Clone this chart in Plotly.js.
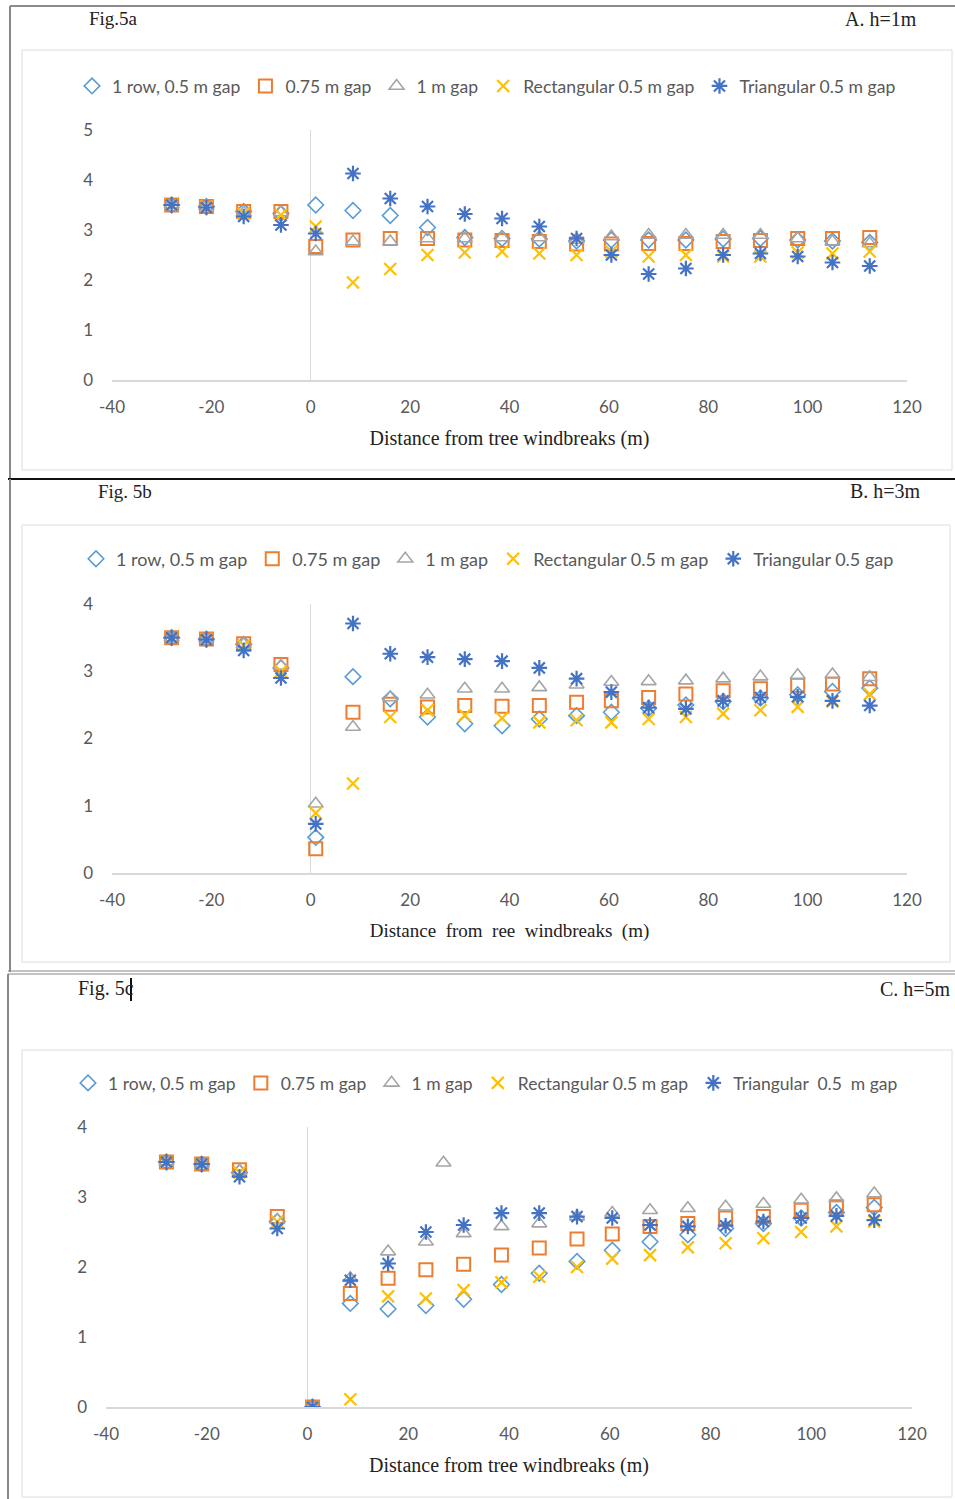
<!DOCTYPE html>
<html><head><meta charset="utf-8">
<script src="https://cdn.plot.ly/plotly-3.0.1.min.js"></script>
<style>html,body{margin:0;padding:0;background:#fff}#chart{width:955px;height:1499px}</style>
</head><body><div id="chart"></div>
<script>
// ---- data ----
const distance = [-28, -21, -13.5, -6, 1, 8.5, 16, 23.5, 31, 38.5, 46, 53.5, 60.5, 68, 75.5, 83, 90.5, 98, 105, 112.5];
const distanceTriC = [-28, -21, -13.5, -6, 1, 8.5, 16, 23.5, 27, 31, 38.5, 46, 53.5, 60.5, 68, 75.5, 83, 90.5, 98, 105, 112.5];

const xTicks = [-40, -20, 0, 20, 40, 60, 80, 100, 120];

// Fig 5a, h = 1 m
const a_row1 = [3.5, 3.47, 3.37, 3.33, 3.5, 3.39, 3.29, 3.05, 2.85, 2.83, 2.82, 2.78, 2.8, 2.8, 2.8, 2.82, 2.83, 2.8, 2.78, 2.75];
const a_gap075 = [3.5, 3.47, 3.37, 3.37, 2.67, 2.8, 2.83, 2.83, 2.8, 2.79, 2.77, 2.72, 2.72, 2.73, 2.73, 2.77, 2.79, 2.83, 2.83, 2.85];
const a_gap1 = [3.5, 3.47, 3.35, 3.35, 2.57, 2.77, 2.77, 2.83, 2.83, 2.85, 2.85, 2.8, 2.87, 2.9, 2.9, 2.9, 2.9, 2.83, 2.77, 2.73];
const a_rect = [3.5, 3.47, 3.33, 3.3, 3.07, 1.95, 2.22, 2.5, 2.55, 2.57, 2.53, 2.5, 2.57, 2.47, 2.5, 2.47, 2.47, 2.55, 2.53, 2.57];
const a_tri = [3.5, 3.45, 3.27, 3.1, 2.93, 4.13, 3.63, 3.47, 3.32, 3.23, 3.07, 2.83, 2.5, 2.12, 2.23, 2.5, 2.53, 2.47, 2.35, 2.28];

// Fig 5b, h = 3 m
const b_row1 = [3.5, 3.48, 3.4, 3.05, 0.53, 2.92, 2.59, 2.32, 2.22, 2.19, 2.29, 2.34, 2.39, 2.45, 2.5, 2.55, 2.6, 2.65, 2.7, 2.75];
const b_gap075 = [3.5, 3.48, 3.41, 3.1, 0.36, 2.39, 2.51, 2.47, 2.49, 2.48, 2.49, 2.54, 2.56, 2.61, 2.66, 2.71, 2.74, 2.79, 2.81, 2.89];
const b_gap1 = [3.5, 3.48, 3.4, 3.08, 1.03, 2.17, 2.61, 2.65, 2.74, 2.74, 2.76, 2.8, 2.84, 2.85, 2.86, 2.89, 2.92, 2.94, 2.95, 2.91];
const b_rect = [3.5, 3.48, 3.38, 3.0, 0.89, 1.33, 2.32, 2.42, 2.35, 2.3, 2.24, 2.27, 2.24, 2.29, 2.32, 2.37, 2.42, 2.47, 2.55, 2.66];
const b_tri = [3.5, 3.47, 3.31, 2.9, 0.73, 3.71, 3.26, 3.21, 3.18, 3.15, 3.05, 2.89, 2.69, 2.46, 2.44, 2.56, 2.61, 2.62, 2.56, 2.49];

// Fig 5c, h = 5 m
const c_row1 = [3.5, 3.47, 3.35, 2.65, 0, 1.48, 1.4, 1.45, 1.54, 1.75, 1.91, 2.08, 2.24, 2.36, 2.46, 2.55, 2.62, 2.7, 2.78, 2.85];
const c_gap075 = [3.5, 3.47, 3.39, 2.72, 0, 1.62, 1.84, 1.96, 2.04, 2.17, 2.27, 2.4, 2.47, 2.58, 2.62, 2.7, 2.72, 2.81, 2.86, 2.89];
const c_gap1 = [3.5, 3.47, 3.37, 2.67, 0, 1.84, 2.22, 2.36, 3.49, 2.48, 2.58, 2.62, 2.72, 2.77, 2.81, 2.84, 2.86, 2.9, 2.96, 2.98, 3.05];
const c_rect = [3.5, 3.47, 3.35, 2.65, 0, 0.11, 1.58, 1.55, 1.67, 1.78, 1.86, 2.0, 2.12, 2.17, 2.28, 2.34, 2.41, 2.5, 2.58, 2.65];
const c_tri = [3.5, 3.47, 3.29, 2.55, 0, 1.81, 2.05, 2.5, 2.6, 2.77, 2.77, 2.72, 2.7, 2.6, 2.58, 2.59, 2.65, 2.7, 2.73, 2.67];

const namesA = ['1 row, 0.5 m gap', '0.75 m gap', '1 m gap', 'Rectangular 0.5 m gap', 'Triangular 0.5 m gap'];
const namesB = ['1 row, 0.5 m gap', '0.75 m gap', '1 m gap', 'Rectangular 0.5 m gap', 'Triangular 0.5 gap'];
const namesC = ['1 row, 0.5 m gap', '0.75 m gap', '1 m gap', 'Rectangular 0.5 m gap', 'Triangular\u00a0 0.5\u00a0 m gap'];

// ---- styling ----
const W = 955, H = 1499;
const px = v => v / W, py = v => 1 - v / H;
const styles = [
  {symbol: 'diamond-open', color: '#5B9BD5', size: 12, lw: 1.6},
  {symbol: 'square-open', color: '#ED7D31', size: 13, lw: 2},
  {symbol: 'triangle-up-open', color: '#A5A5A5', size: 13, lw: 1.6},
  {symbol: 'x-thin-open', color: '#FFC000', size: 12, lw: 2.2},
  {symbol: 'asterisk-open', color: '#4472C4', size: 13, lw: 2.2}
];

function traces(names, xs, ys, ax, leg) {
  return ys.map((y, i) => ({
    type: 'scatter', mode: 'markers', name: names[i],
    x: xs[i], y: y,
    xaxis: 'x' + ax, yaxis: 'y' + ax, legend: leg,
    marker: {symbol: styles[i].symbol, size: styles[i].size, color: styles[i].color,
             line: {color: styles[i].color, width: styles[i].lw}},
    hoverinfo: 'x+y+name'
  }));
}

const data = [].concat(
  traces(namesA, [distance, distance, distance, distance, distance], [a_row1, a_gap075, a_gap1, a_rect, a_tri], '', 'legend'),
  traces(namesB, [distance, distance, distance, distance, distance], [b_row1, b_gap075, b_gap1, b_rect, b_tri], '2', 'legend2'),
  traces(namesC, [distance, distance, distanceTriC, distance, distance], [c_row1, c_gap075, c_gap1, c_rect, c_tri], '3', 'legend3')
);

const sansFam = 'Lato, "Open Sans", sans-serif';
const serifFam = '"Liberation Serif", "DejaVu Serif", serif';
const tickFont = {family: sansFam, size: 17, color: '#595959'};
const titleFont = {family: serifFam, size: 20, color: '#222'};

function xAxis(x0, x1, anchor, title, tfont) {
  return {
    domain: [px(x0), px(x1)], anchor: anchor, range: [-40, 120],
    tickvals: xTicks, ticktext: xTicks.map(String),
    showgrid: false, zeroline: true, zerolinecolor: '#D9D9D9', zerolinewidth: 1,
    showline: true, linecolor: '#D9D9D9', linewidth: 1.5, ticks: '',
    tickfont: tickFont, ticklabelstandoff: 11, automargin: false,
    title: {text: title, font: tfont || titleFont, standoff: 15}
  };
}
function yAxis(y0, y1, anchor, maxv) {
  return {
    domain: [py(y1), py(y0)], anchor: anchor, range: [0, maxv], dtick: 1,
    showgrid: false, zeroline: false, showline: false, ticks: '',
    tickfont: tickFont, ticklabelstandoff: 18, automargin: false
  };
}

const legendBase = (size) => ({orientation: 'h', xanchor: 'left', yanchor: 'middle',
  font: {family: sansFam, size: size, color: '#595959'},
  bgcolor: 'rgba(0,0,0,0)', itemwidth: 30, tracegroupgap: 0});

const line = (x0, y0, x1, y1, color, width) => ({type: 'line', xref: 'paper', yref: 'paper',
  x0: px(x0), y0: py(y0), x1: px(x1), y1: py(y1), line: {color: color, width: width}});
const rect = (x0, y0, x1, y1, color) => ({type: 'rect', xref: 'paper', yref: 'paper',
  x0: px(x0), y0: py(y1), x1: px(x1), y1: py(y0), line: {color: color, width: 1}, layer: 'below'});

const ann = (text, x, y, xanchor, size) => ({text: text, xref: 'paper', yref: 'paper', x: px(x), y: py(y),
  xanchor: xanchor, yanchor: 'middle', showarrow: false, font: {family: serifFam, size: size || 19, color: '#222'}});

const layout = {
  width: W, height: H, margin: {l: 0, r: 0, t: 0, b: 0},
  paper_bgcolor: '#fff', plot_bgcolor: 'rgba(0,0,0,0)', showlegend: true,
  xaxis: xAxis(112, 907, 'y', 'Distance from tree windbreaks (m)'),
  yaxis: yAxis(130, 380, 'x', 5),
  xaxis2: xAxis(112, 907, 'y2', 'Distance\u00a0 from\u00a0 ree\u00a0 windbreaks\u00a0 (m)', {family: serifFam, size: 19, color: '#222'}),
  yaxis2: yAxis(604, 873, 'x2', 4),
  xaxis3: xAxis(106, 912, 'y3', 'Distance from tree windbreaks (m)'),
  yaxis3: yAxis(1127, 1407, 'x3', 4),
  legend: Object.assign({x: px(72), y: py(86)}, legendBase(17.6)),
  legend2: Object.assign({x: px(76), y: py(559)}, legendBase(18)),
  legend3: Object.assign({x: px(68), y: py(1083)}, legendBase(17.5)),
  shapes: [
    line(10, 6, 955, 6, '#666', 1.5),
    line(10, 6, 10, 479, '#888', 2),
    rect(22, 50, 952, 470, '#DDDDDD'),
    line(8, 479, 955, 479, '#111', 2),
    line(10, 479, 10, 972, '#888', 2),
    rect(22, 525, 950, 962, '#DDDDDD'),
    line(8, 971, 955, 971, '#888', 1),
    line(8, 974, 955, 974, '#888', 1),
    line(8, 974, 8, 1499, '#888', 2),
    rect(22, 1050, 952, 1497, '#DDDDDD'),
    line(131, 978, 131, 1001, '#111', 2)
  ],
  annotations: [
    ann('Fig.5a', 87, 19, 'left'),
    ann('A. h=1m', 919, 19, 'right', 20),
    ann('Fig. 5b', 96, 491, 'left'),
    ann('B. h=3m', 923, 491, 'right', 20),
    ann('Fig. 5c', 76, 989, 'left', 20),
    ann('C. h=5m', 953, 989, 'right', 20)
  ]
};

Plotly.newPlot('chart', data, layout, {displayModeBar: false, responsive: false});
</script></body></html>
